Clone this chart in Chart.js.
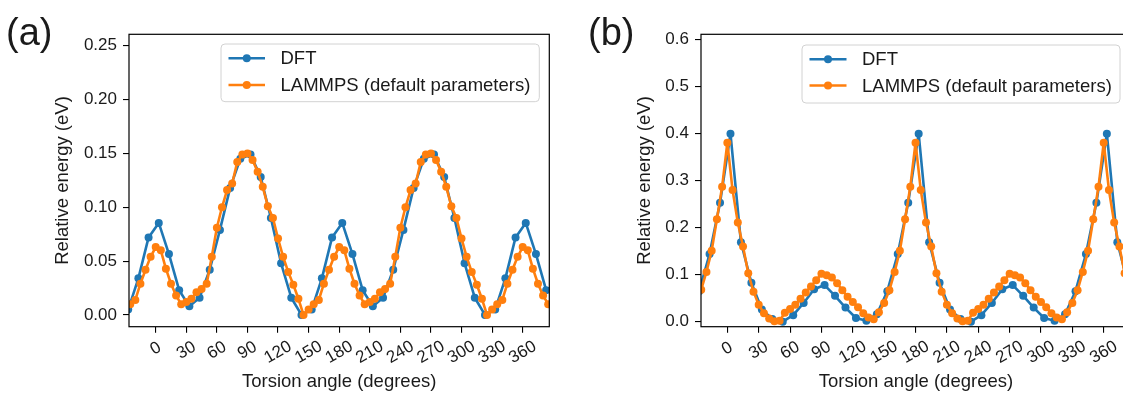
<!DOCTYPE html>
<html><head><meta charset="utf-8">
<script src="https://cdn.jsdelivr.net/npm/chart.js@4.4.1/dist/chart.umd.min.js"></script>
<style>
html,body{margin:0;padding:0;background:#fff;overflow:hidden;width:1123px;height:394px;}
#wrap{position:relative;width:1123px;height:394px;overflow:hidden;background:#fff;}
.panel{position:absolute;top:0;height:394px;width:560px;}
#pa{left:0;}
#pb{left:580px;}
.tag{position:absolute;font-family:"Liberation Sans",Arial,sans-serif;font-size:38px;color:#1a1a1a;line-height:1;}
</style></head><body>
<div id="wrap">
<div class="panel" id="pa"><canvas id="ca"></canvas></div>
<div class="panel" id="pb"><canvas id="cb"></canvas></div>
<div class="tag" style="left:6px;top:13px">(a)</div>
<div class="tag" style="left:588px;top:13px">(b)</div>
</div>
<script>
// ---------- data ----------
const seriesNames = ['DFT', 'LAMMPS (default parameters)'];
const xTitle = 'Torsion angle (degrees)';
const yTitle = 'Relative energy (eV)';
const xTickValues = [0, 30, 60, 90, 120, 150, 180, 210, 240, 270, 300, 330, 360];
const xTickLabels = ['0', '30', '60', '90', '120', '150', '180', '210', '240', '270', '300', '330', '360'];
const yTickValuesA = [0, 0.05, 0.10, 0.15, 0.20, 0.25];
const yTickLabelsA = ['0.00', '0.05', '0.10', '0.15', '0.20', '0.25'];
const yTickValuesB = [0, 0.1, 0.2, 0.3, 0.4, 0.5, 0.6];
const yTickLabelsB = ['0.0', '0.1', '0.2', '0.3', '0.4', '0.5', '0.6'];

const dftAngles = [-27, -17, -7, 3, 13, 23, 33, 43, 53, 63, 73, 83, 93, 103, 113, 123, 133, 143, 153, 163, 173,
  183, 193, 203, 213, 223, 233, 243, 253, 263, 273, 283, 293, 303, 313, 323, 333, 343, 353, 363, 373, 383];
const lammpsAngles = [-25, -20, -15, -10, -5, 0, 5, 10, 15, 20, 25, 30, 35, 40, 45, 50, 55, 60, 65, 70, 75, 80, 85,
  90, 95, 100, 105, 110, 115, 120, 125, 130, 135, 140, 145, 150, 155, 160, 165, 170, 175, 180, 185, 190, 195, 200,
  205, 210, 215, 220, 225, 230, 235, 240, 245, 250, 255, 260, 265, 270, 275, 280, 285, 290, 295, 300, 305, 310,
  315, 320, 325, 330, 335, 340, 345, 350, 355, 360, 365, 370, 375, 380, 385];

// panel (a)
const dftEnergyA = [0.005, 0.034, 0.072, 0.0855, 0.0565, 0.023, 0.008, 0.016, 0.042, 0.079, 0.118, 0.145, 0.149,
  0.128, 0.090, 0.048, 0.016, 0.000, 0.005, 0.034, 0.072, 0.0855, 0.0565, 0.023, 0.008, 0.016, 0.042, 0.079,
  0.118, 0.145, 0.149, 0.128, 0.090, 0.048, 0.016, 0.000, 0.005, 0.034, 0.072, 0.0855, 0.0565, 0.023];
const lammpsEnergyA = [0.010, 0.014, 0.029, 0.042, 0.054, 0.063, 0.060, 0.043, 0.029, 0.018, 0.010, 0.012, 0.015,
  0.021, 0.024, 0.029, 0.054, 0.081, 0.100, 0.116, 0.122, 0.142, 0.149, 0.150, 0.144, 0.133, 0.119, 0.101, 0.090,
  0.071, 0.054, 0.040, 0.028, 0.015, 0.000, 0.005, 0.010, 0.014, 0.029, 0.042, 0.054, 0.063, 0.060, 0.043, 0.029,
  0.018, 0.010, 0.012, 0.015, 0.021, 0.024, 0.029, 0.054, 0.081, 0.100, 0.116, 0.122, 0.142, 0.149, 0.150, 0.144,
  0.133, 0.119, 0.101, 0.090, 0.071, 0.054, 0.040, 0.028, 0.015, 0.000, 0.005, 0.010, 0.014, 0.029, 0.042, 0.054,
  0.063, 0.060, 0.043, 0.029, 0.018, 0.010];

// panel (b)
const dftEnergyB = [0.065, 0.144, 0.253, 0.400, 0.169, 0.083, 0.026, 0.006, 0.000, 0.014, 0.040, 0.069, 0.078,
  0.055, 0.030, 0.008, 0.002, 0.016, 0.065, 0.144, 0.253, 0.400, 0.169, 0.083, 0.026, 0.006, 0.000, 0.014, 0.040,
  0.069, 0.078, 0.055, 0.030, 0.008, 0.002, 0.016, 0.065, 0.144, 0.253, 0.400, 0.169, 0.083];
const lammpsEnergyB = [0.068, 0.106, 0.151, 0.218, 0.287, 0.381, 0.280, 0.211, 0.160, 0.103, 0.064, 0.036, 0.018,
  0.007, 0.001, 0.002, 0.019, 0.027, 0.036, 0.049, 0.062, 0.075, 0.088, 0.102, 0.099, 0.094, 0.082, 0.067, 0.053,
  0.042, 0.031, 0.018, 0.009, 0.005, 0.020, 0.040, 0.067, 0.106, 0.151, 0.218, 0.287, 0.381, 0.280, 0.211, 0.160,
  0.103, 0.064, 0.036, 0.018, 0.007, 0.001, 0.002, 0.019, 0.027, 0.036, 0.049, 0.062, 0.075, 0.088, 0.102, 0.099,
  0.094, 0.082, 0.067, 0.053, 0.042, 0.031, 0.018, 0.009, 0.005, 0.020, 0.040, 0.067, 0.106, 0.151, 0.218, 0.287,
  0.381, 0.280, 0.211, 0.160, 0.103, 0.064];

// ---------- styling ----------
const FONT = '"Liberation Sans", Arial, Helvetica, sans-serif';
const BLUE = '#1f77b4';
const ORANGE = '#ff7f0e';
const INK = '#1a1a1a';
const TICK_SIZE = 17;
const TITLE_SIZE = 18.5;
const LEGEND_SIZE = 18.5;
const LINE_W = 2.6;
const DOT_R = 4;

const legendCfgs = {
  ca: { x: 221, y: 44, w: 318.3, h: 57.7, hx: 228.5, hl: 36.5, tx: 280.5, rows: [58.3, 85] },
  cb: { x: 222, y: 45, w: 318, h: 58, hx: 229.5, hl: 37, tx: 282, rows: [59.3, 85.5] }
};

function pts(xs, ys) { return xs.map((x, i) => ({ x: x, y: ys[i] })); }

function roundRect(c, x, y, w, h, r) {
  c.beginPath();
  c.moveTo(x + r, y);
  c.lineTo(x + w - r, y); c.arcTo(x + w, y, x + w, y + r, r);
  c.lineTo(x + w, y + h - r); c.arcTo(x + w, y + h, x + w - r, y + h, r);
  c.lineTo(x + r, y + h); c.arcTo(x, y + h, x, y + h - r, r);
  c.lineTo(x, y + r); c.arcTo(x, y, x + r, y, r);
  c.closePath();
}

const decorPlugin = {
  id: 'decor',
  afterDatasetsDraw(chart) {
    const c = chart.ctx;
    const a = chart.chartArea;
    const L = legendCfgs[chart.canvas.id];
    c.save();
    // frame
    c.strokeStyle = '#000';
    c.lineWidth = 1.2;
    c.strokeRect(a.left, a.top, a.right - a.left, a.bottom - a.top);
    // rotated x tick labels (centred under each tick)
    const xs = chart.scales.x;
    c.font = TICK_SIZE + 'px ' + FONT;
    c.fillStyle = INK;
    c.textAlign = 'center';
    c.textBaseline = 'middle';
    xTickValues.forEach((v, i) => {
      const px = xs.getPixelForValue(v);
      if (px < a.left - 1 || px > a.right + 1) return;
      const w = c.measureText(xTickLabels[i]).width;
      const cy = a.bottom + 20 + 0.2 * w;
      c.save();
      c.translate(px, cy);
      c.rotate(-Math.PI / 6);
      c.fillText(xTickLabels[i], 0, 0);
      c.restore();
    });
    if (!L) { c.restore(); return; }
    // legend box
    roundRect(c, L.x, L.y, L.w, L.h, 4);
    c.fillStyle = 'rgba(255,255,255,0.85)';
    c.fill();
    c.strokeStyle = '#d2d2d2';
    c.lineWidth = 1;
    c.stroke();
    c.font = LEGEND_SIZE + 'px ' + FONT;
    c.textAlign = 'left';
    c.textBaseline = 'middle';
    chart.data.datasets.forEach((ds, i) => {
      const cy = L.rows[i];
      c.strokeStyle = ds.borderColor;
      c.lineWidth = LINE_W;
      c.beginPath(); c.moveTo(L.hx, cy); c.lineTo(L.hx + L.hl, cy); c.stroke();
      c.fillStyle = ds.borderColor;
      c.beginPath(); c.arc(L.hx + L.hl / 2, cy, DOT_R, 0, Math.PI * 2); c.fill();
      c.fillStyle = INK;
      c.fillText(ds.label, L.tx, cy + 1);
    });
    c.restore();
  }
};

function build(id, cfg) {
  return new Chart(document.getElementById(id), {
    type: 'line',
    data: {
      datasets: [
        { label: seriesNames[0], data: pts(dftAngles, cfg.dft), borderColor: BLUE, backgroundColor: BLUE,
          pointBackgroundColor: BLUE, order: 2, clip: 0 },
        { label: seriesNames[1], data: pts(lammpsAngles, cfg.lmp), borderColor: ORANGE, backgroundColor: ORANGE,
          pointBackgroundColor: ORANGE, order: 1, clip: 0 }
      ]
    },
    options: {
      responsive: true, maintainAspectRatio: false, animation: false,
      events: [],
      layout: { padding: { left: 0, top: 34.3, right: cfg.padRight, bottom: 0 } },
      plugins: { legend: { display: false }, tooltip: { enabled: false } },
      elements: {
        line: { tension: 0, borderWidth: LINE_W, fill: false, borderJoinStyle: 'round', borderCapStyle: 'round' },
        point: { radius: DOT_R, borderWidth: 0, hoverRadius: DOT_R }
      },
      scales: {
        x: {
          type: 'linear', min: cfg.xMin, max: cfg.xMax,
          afterBuildTicks: s => { s.ticks = xTickValues.map(v => ({ value: v })); },
          afterFit: s => { s.height = 67.3; },
          ticks: { display: false },
          grid: { drawOnChartArea: false, drawTicks: true, tickLength: 6, color: '#000', lineWidth: 1.1 },
          border: { display: false },
          title: { display: true, text: xTitle, color: INK, font: { family: FONT, size: TITLE_SIZE },
                   padding: { top: 0, bottom: 0.8 } }
        },
        y: {
          type: 'linear', min: cfg.yMin, max: cfg.yMax,
          afterBuildTicks: s => { s.ticks = cfg.yTicks.map(v => ({ value: v })); },
          afterFit: s => { s.width = cfg.yAxisW; },
          ticks: { callback: (v, i) => cfg.yLabels[i], color: INK, font: { family: FONT, size: TICK_SIZE }, padding: 6 },
          grid: { drawOnChartArea: false, drawTicks: true, tickLength: 6, color: '#000', lineWidth: 1.1 },
          border: { display: false },
          title: { display: true, text: yTitle, color: INK, font: { family: FONT, size: TITLE_SIZE },
                   padding: { top: cfg.yTitlePad, bottom: 0 } }
        }
      }
    },
    plugins: [decorPlugin]
  });
}

build('ca', {
  dft: dftEnergyA, lmp: lammpsEnergyA,
  xMin: -26.2, xMax: 386.1, yMin: -0.0109, yMax: 0.2606,
  yTicks: yTickValuesA, yLabels: yTickLabelsA,
  yAxisW: 129, padRight: 10.7, yTitlePad: 52
});
build('cb', {
  dft: dftEnergyB, lmp: lammpsEnergyB,
  xMin: -25.2, xMax: 386, yMin: -0.0106, yMax: 0.6115,
  yTicks: yTickValuesB, yLabels: yTickLabelsB,
  yAxisW: 121, padRight: 9.1, yTitlePad: 54
});
</script>
</body></html>
